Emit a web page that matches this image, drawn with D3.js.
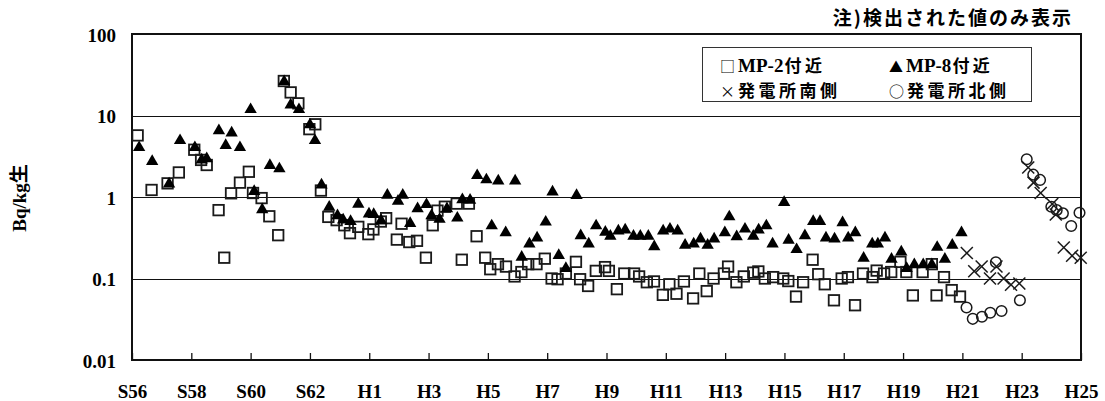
<!DOCTYPE html>
<html><head><meta charset="utf-8">
<script src="https://cdn.jsdelivr.net/npm/d3@7"></script>
<style>
html,body{margin:0;padding:0;background:#fff;}
svg{display:block;}
</style></head>
<body><svg id="c" width="1105" height="401"></svg>
<script>
// ---- data (fiscal year as decimal, value in Bq/kg生) ----
const xTickYears = [1981,1983,1985,1987,1989,1991,1993,1995,1997,1999,2001,2003,2005,2007,2009,2011,2013];
const xTickLabels = ["S56","S58","S60","S62","H1","H3","H5","H7","H9","H11","H13","H15","H17","H19","H21","H23","H25"];
const yTickValues = [0.01,0.1,1,10,100];
const yTickLabels = ["0.01","0.1","1","10","100"];
const seriesNames = ["MP-2付近","MP-8付近","発電所南側","発電所北側"];

const mp2Years = [1981.19,1981.66,1982.20,1982.58,1983.10,1983.33,1983.52,1983.92,1984.11,1984.34,1984.64,1984.94,1985.08,1985.37,1985.63,1985.93,1986.12,1986.35,1986.61,1986.98,1987.18,1987.37,1987.62,1987.90,1988.16,1988.35,1988.63,1988.97,1989.14,1989.39,1989.57,1989.93,1990.09,1990.35,1990.61,1990.91,1991.14,1991.30,1991.55,1991.95,1992.12,1992.36,1992.62,1992.91,1993.08,1993.34,1993.61,1993.90,1994.13,1994.36,1994.64,1994.92,1995.15,1995.35,1995.63,1995.97,1996.11,1996.38,1996.64,1996.95,1997.08,1997.35,1997.60,1997.93,1998.10,1998.36,1998.60,1998.90,1999.12,1999.36,1999.61,1999.92,2000.13,2000.38,2000.61,2000.96,2001.10,2001.38,2001.63,2001.95,2002.12,2002.34,2002.62,2002.96,2003.13,2003.39,2003.63,2003.95,2004.14,2004.36,2004.67,2004.93,2005.14,2005.38,2005.65,2005.97,2006.11,2006.36,2006.60,2006.91,2007.11,2007.33,2007.66,2007.97,2008.13,2008.38,2008.64,2008.92];
const mp2Values = [5.7,1.22,1.47,2.0,3.8,2.85,2.47,0.69,0.18,1.11,1.5,2.04,1.12,0.97,0.58,0.34,26.5,19.2,14.1,6.8,7.8,1.2,0.57,0.52,0.45,0.36,0.43,0.35,0.40,0.50,0.55,0.30,0.47,0.28,0.29,0.18,0.45,0.68,0.76,0.83,0.17,0.83,0.33,0.18,0.13,0.15,0.14,0.106,0.12,0.15,0.15,0.175,0.10,0.098,0.115,0.16,0.098,0.081,0.124,0.138,0.124,0.074,0.115,0.115,0.106,0.09,0.092,0.063,0.085,0.065,0.092,0.057,0.115,0.07,0.10,0.115,0.14,0.09,0.106,0.118,0.122,0.10,0.104,0.10,0.093,0.06,0.09,0.17,0.113,0.085,0.054,0.10,0.104,0.047,0.115,0.104,0.125,0.115,0.12,0.16,0.12,0.062,0.12,0.15,0.062,0.104,0.072,0.06];

const mp8Years = [1981.24,1981.68,1982.25,1982.62,1983.12,1983.35,1983.52,1983.93,1984.16,1984.36,1984.64,1985.00,1985.12,1985.39,1985.65,1985.97,1986.13,1986.35,1986.63,1987.00,1987.17,1987.39,1987.65,1987.93,1988.12,1988.37,1988.63,1988.99,1989.15,1989.40,1989.61,1989.97,1990.13,1990.38,1990.63,1990.93,1991.10,1991.37,1991.62,1991.97,1992.14,1992.40,1992.64,1992.95,1993.13,1993.35,1993.60,1993.92,1994.14,1994.40,1994.66,1994.95,1995.18,1995.39,1995.63,1995.99,1996.13,1996.40,1996.65,1996.96,1997.13,1997.40,1997.63,1997.91,1998.14,1998.41,1998.61,1998.91,1999.14,1999.40,1999.65,1999.94,2000.17,2000.41,2000.63,2000.99,2001.14,2001.39,2001.67,2001.95,2002.13,2002.39,2002.60,2002.99,2003.14,2003.41,2003.69,2003.97,2004.20,2004.40,2004.69,2004.96,2005.15,2005.39,2005.67,2005.96,2006.15,2006.39,2006.61,2006.94,2007.12,2007.38,2007.68,2007.97,2008.15,2008.41,2008.66,2008.97];
const mp8Values = [4.1,2.77,1.47,5.0,4.1,2.9,3.0,6.6,4.35,6.2,4.1,12.0,1.19,0.71,2.47,2.25,26.5,13.7,12.0,7.8,5.0,1.43,0.76,0.60,0.53,0.51,0.83,0.63,0.62,0.52,1.07,0.90,1.07,0.48,0.73,0.82,0.60,0.54,0.73,0.56,0.94,0.93,1.86,1.65,0.45,1.60,0.37,1.60,0.185,0.27,0.32,0.50,1.17,0.195,0.135,1.06,0.34,0.27,0.45,0.375,0.335,0.39,0.40,0.335,0.335,0.335,0.25,0.39,0.41,0.39,0.26,0.27,0.31,0.26,0.31,0.37,0.58,0.33,0.41,0.335,0.40,0.45,0.27,0.87,0.30,0.23,0.34,0.51,0.51,0.32,0.31,0.49,0.32,0.37,0.18,0.27,0.27,0.32,0.175,0.215,0.135,0.15,0.15,0.15,0.245,0.175,0.26,0.37];

const southYears = [2009.15,2009.40,2009.65,2009.93,2010.15,2010.39,2010.64,2010.92,2011.22,2011.40,2011.64,2012.03,2012.15,2012.42,2012.70,2012.99];
const southValues = [0.205,0.123,0.14,0.10,0.14,0.10,0.084,0.087,2.3,1.5,1.12,0.82,0.61,0.24,0.19,0.18];

const northYears = [2009.14,2009.35,2009.66,2009.94,2010.13,2010.32,2010.94,2011.17,2011.39,2011.62,2012.00,2012.18,2012.39,2012.67,2012.95];
const northValues = [0.044,0.032,0.034,0.038,0.158,0.040,0.054,2.9,1.88,1.62,0.76,0.69,0.63,0.44,0.64];

// ---- drawing ----
const L = 132, R = 1081, T = 34, B = 360;
const svg = d3.select("#c");
const x = d3.scaleLinear().domain([1981, 2013]).range([L, R]);
const y = d3.scaleLog().domain([0.01, 100]).range([B, T]);
const zip = (a, b) => a.map((v, i) => [v, b[i]]);
const serif = "'Liberation Serif','Times New Roman',serif";
const goth = "'Noto Sans CJK JP','Noto Sans',sans-serif";

// gridlines
svg.append("g").selectAll("line").data([0.1, 1, 10]).join("line")
  .attr("x1", L).attr("x2", R).attr("y1", d => Math.round(y(d)) + 0.5).attr("y2", d => Math.round(y(d)) + 0.5)
  .attr("stroke", "#111").attr("stroke-width", 1);

// x axis (inner ticks)
const xAxis = d3.axisBottom(x).tickValues(xTickYears)
  .tickFormat((d, i) => xTickLabels[i]).tickSizeInner(-7).tickSizeOuter(0).tickPadding(0);
const gx = svg.append("g").attr("transform", `translate(0,${B})`).call(xAxis);
gx.select(".domain").remove();
gx.selectAll(".tick line").attr("stroke", "#111").attr("stroke-width", 1.3);
gx.selectAll(".tick text").attr("y", 38).attr("dy", 0)
  .style("font-family", serif).style("font-weight", "bold").style("font-size", "19px").attr("fill", "#000");

// y axis labels
const yAxis = d3.axisLeft(y).tickValues(yTickValues)
  .tickFormat((d, i) => yTickLabels[i]).tickSize(0).tickPadding(16);
const gy = svg.append("g").attr("transform", `translate(${L},0)`).call(yAxis);
gy.select(".domain").remove();
gy.selectAll(".tick text").attr("dy", "0.38em")
  .style("font-family", serif).style("font-weight", "bold").style("font-size", "19px").attr("fill", "#000");

// frame
svg.append("rect").attr("x", L).attr("y", T).attr("width", R - L).attr("height", B - T)
  .attr("fill", "none").attr("stroke", "#111").attr("stroke-width", 2);

// series
const plot = svg.append("g");
const sq = 10.5;
plot.append("g").selectAll("rect").data(zip(mp2Years, mp2Values)).join("rect")
  .attr("x", d => x(d[0]) - sq / 2).attr("y", d => y(d[1]) - sq / 2)
  .attr("width", sq).attr("height", sq)
  .attr("fill", "none").attr("stroke", "#1a1a1a").attr("stroke-width", 1.8);
const tri = d3.symbol().type(d3.symbolTriangle).size(66);
plot.append("g").selectAll("path").data(zip(mp8Years, mp8Values)).join("path")
  .attr("d", tri).attr("transform", d => `translate(${x(d[0])},${y(d[1]) + 0.5})`)
  .attr("fill", "#000");
const cr = 6;
const gs = plot.append("g").selectAll("g").data(zip(southYears, southValues)).join("g")
  .attr("transform", d => `translate(${x(d[0])},${y(d[1])})`);
gs.append("line").attr("x1", -cr).attr("y1", -cr).attr("x2", cr).attr("y2", cr)
  .attr("stroke", "#1a1a1a").attr("stroke-width", 1.5);
gs.append("line").attr("x1", -cr).attr("y1", cr).attr("x2", cr).attr("y2", -cr)
  .attr("stroke", "#1a1a1a").attr("stroke-width", 1.5);
plot.append("g").selectAll("circle").data(zip(northYears, northValues)).join("circle")
  .attr("cx", d => x(d[0])).attr("cy", d => y(d[1])).attr("r", 5.3)
  .attr("fill", "none").attr("stroke", "#1a1a1a").attr("stroke-width", 1.5);

// legend
const lg = svg.append("g");
lg.append("rect").attr("x", 702.5).attr("y", 47.5).attr("width", 329).attr("height", 54)
  .attr("fill", "#fff").attr("stroke", "#333").attr("stroke-width", 1);
const legendItems = [
  {sym: "□", lat: "MP-2", jp: "付近", x: 720, y: 71.5},
  {sym: "▲", lat: "MP-8", jp: "付近", x: 889, y: 71.5},
  {sym: "×", lat: "", jp: "発電所南側", x: 720, y: 96.5},
  {sym: "○", lat: "", jp: "発電所北側", x: 889, y: 96.5}
];
legendItems.forEach(it => {
  let cx = it.x;
  const s = lg.append("text").attr("x", cx).attr("y", it.y).text(it.sym)
    .style("font-family", goth).style("font-size", it.sym === "▲" ? "14px" : "15px").attr("fill", "#000");
  cx += s.node().getComputedTextLength() + 3;
  if (it.lat) {
    const l = lg.append("text").attr("x", cx).attr("y", it.y).text(it.lat)
      .style("font-family", serif).style("font-weight", "bold").style("font-size", "19px").attr("fill", "#000");
    cx += l.node().getComputedTextLength() + 1;
  }
  lg.append("text").attr("x", cx).attr("y", it.y).text(it.jp)
    .style("font-family", goth).style("font-weight", "bold").style("font-size", "17px")
    .style("letter-spacing", "3.5px").attr("fill", "#000");
});

// note
svg.append("text").attr("x", 1073).attr("y", 25).attr("text-anchor", "end")
  .style("font-family", goth).style("font-weight", "bold").style("font-size", "19px")
  .style("letter-spacing", "2px").attr("fill", "#000").text("注)検出された値のみ表示");

// y axis title
svg.append("text").attr("transform", "translate(26,198) rotate(-90)").attr("text-anchor", "middle")
  .style("font-size", "19px").style("font-weight", "bold").attr("fill", "#000")
  .call(t => {
    t.append("tspan").text("Bq/kg").style("font-family", serif);
    t.append("tspan").text("生").style("font-family", goth);
  });
</script></body></html>
